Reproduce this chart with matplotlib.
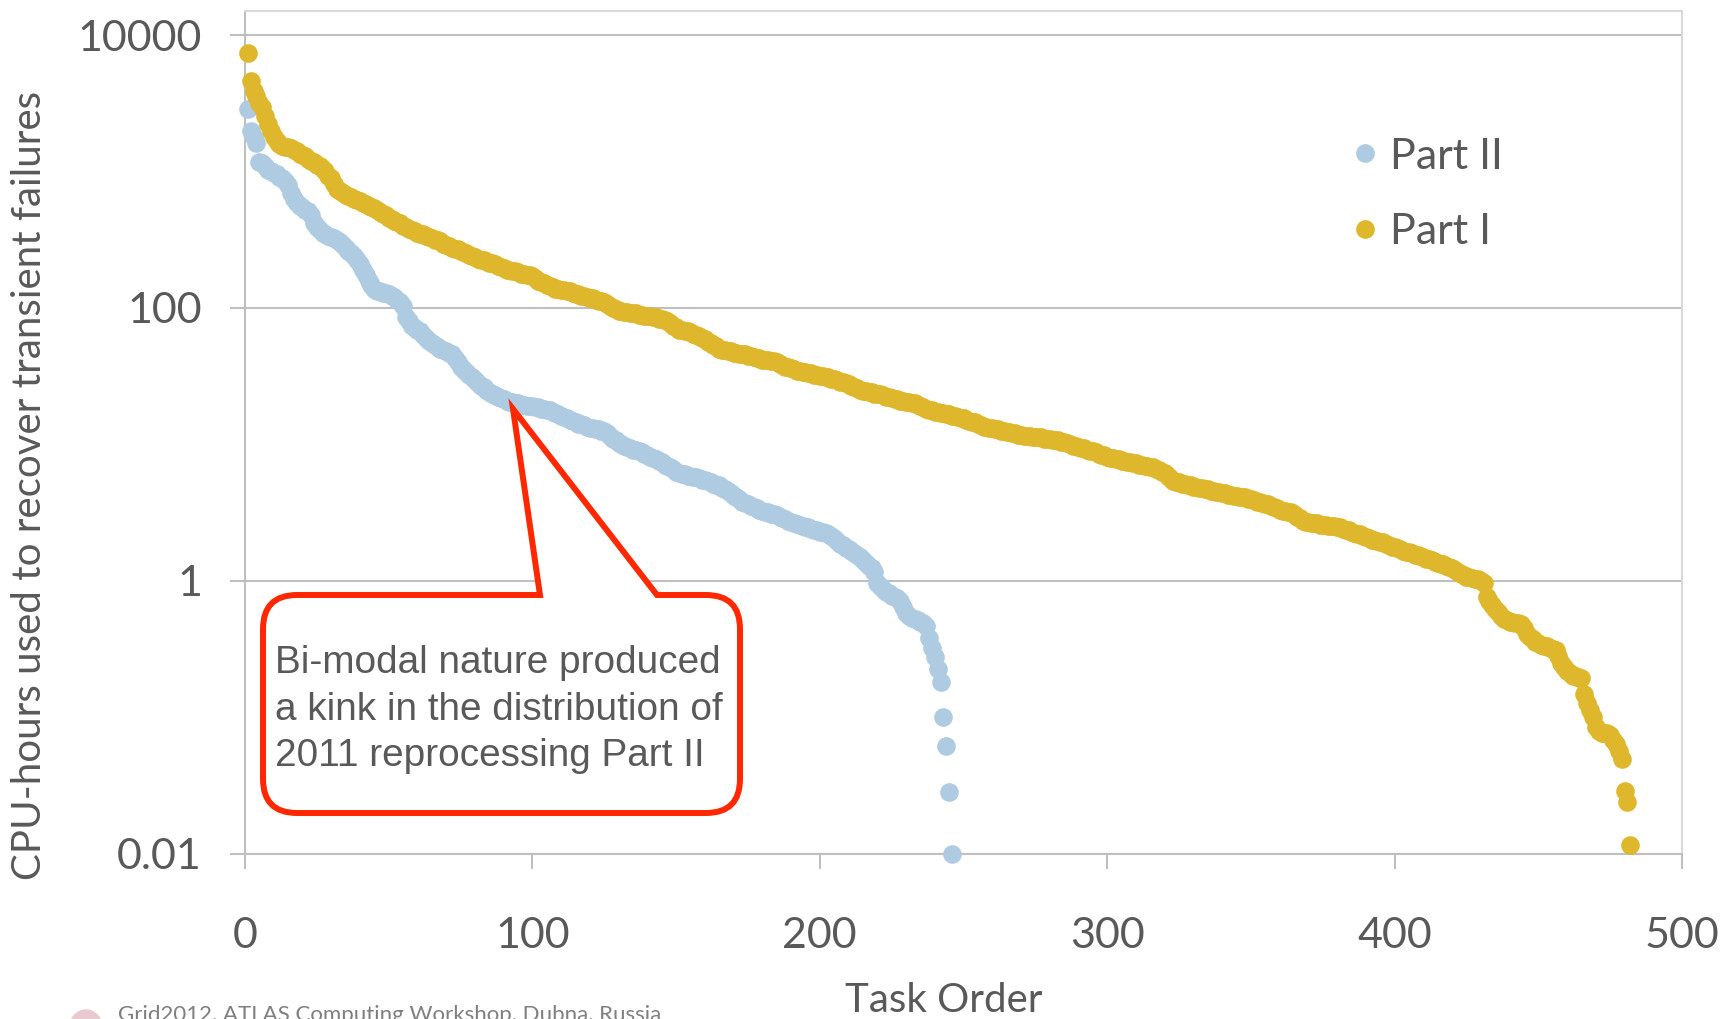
import matplotlib
matplotlib.use("Agg")
import matplotlib.pyplot as plt
import numpy as np
from matplotlib.path import Path
from matplotlib.patches import PathPatch, Ellipse
from matplotlib.lines import Line2D

# CPU-hours per task, sorted descending as log10 values
part2_log10 = [
    3.46, 3.30, 3.25, 3.21, 3.07, 3.06, 3.04, 3.01, 3.00, 2.99,
    2.98, 2.96, 2.95, 2.93, 2.90, 2.84, 2.80, 2.77, 2.75, 2.74,
    2.72, 2.71, 2.68, 2.62, 2.59, 2.57, 2.55, 2.54, 2.53, 2.52,
    2.51, 2.50, 2.48, 2.46, 2.44, 2.42, 2.40, 2.38, 2.35, 2.32,
    2.28, 2.24, 2.20, 2.17, 2.14, 2.12, 2.12, 2.11, 2.11, 2.10,
    2.09, 2.08, 2.06, 2.04, 2.01, 1.93, 1.90, 1.87, 1.85, 1.84,
    1.83, 1.80, 1.78, 1.76, 1.74, 1.73, 1.71, 1.70, 1.69, 1.68,
    1.67, 1.66, 1.63, 1.60, 1.57, 1.55, 1.53, 1.51, 1.49, 1.47,
    1.45, 1.43, 1.42, 1.40, 1.38, 1.37, 1.36, 1.35, 1.34, 1.33,
    1.32, 1.31, 1.31, 1.30, 1.30, 1.29, 1.29, 1.28, 1.28, 1.28,
    1.27, 1.27, 1.26, 1.26, 1.25, 1.25, 1.24, 1.23, 1.22, 1.21,
    1.20, 1.19, 1.18, 1.17, 1.16, 1.15, 1.15, 1.14, 1.13, 1.12,
    1.12, 1.11, 1.11, 1.10, 1.10, 1.08, 1.06, 1.04, 1.03, 1.01,
    1.00, 0.99, 0.98, 0.97, 0.96, 0.96, 0.95, 0.94, 0.93, 0.92,
    0.91, 0.90, 0.89, 0.88, 0.87, 0.85, 0.84, 0.83, 0.82, 0.80,
    0.79, 0.78, 0.78, 0.77, 0.77, 0.76, 0.76, 0.75, 0.74, 0.74,
    0.73, 0.72, 0.71, 0.70, 0.70, 0.68, 0.67, 0.66, 0.64, 0.62,
    0.61, 0.60, 0.58, 0.57, 0.56, 0.55, 0.54, 0.53, 0.52, 0.51,
    0.50, 0.50, 0.49, 0.49, 0.48, 0.47, 0.46, 0.45, 0.44, 0.43,
    0.42, 0.415, 0.41, 0.40, 0.39, 0.39, 0.38, 0.37, 0.37, 0.36,
    0.355, 0.35, 0.34, 0.33, 0.31, 0.29, 0.27, 0.26, 0.24, 0.23,
    0.22, 0.20, 0.19, 0.17, 0.15, 0.13, 0.11, 0.09, 0.06, -0.02,
    -0.04, -0.06, -0.08, -0.09, -0.11, -0.12, -0.13, -0.15, -0.19, -0.24,
    -0.26, -0.27, -0.28, -0.29, -0.30, -0.31, -0.33, -0.42, -0.49, -0.56,
    -0.65, -0.74, -1.00, -1.21, -1.55, -2.00,
]

part1_log10 = [
    3.87, 3.66, 3.59, 3.55, 3.50, 3.47, 3.41, 3.35, 3.30, 3.25,
    3.22, 3.20, 3.19, 3.18, 3.18, 3.17, 3.16, 3.15, 3.13, 3.12,
    3.11, 3.09, 3.08, 3.07, 3.05, 3.04, 3.02, 3.00, 2.97, 2.95,
    2.91, 2.87, 2.86, 2.84, 2.83, 2.82, 2.81, 2.80, 2.79, 2.78,
    2.77, 2.76, 2.75, 2.74, 2.73, 2.72, 2.70, 2.69, 2.68, 2.66,
    2.65, 2.64, 2.63, 2.62, 2.60, 2.59, 2.58, 2.57, 2.56, 2.55,
    2.54, 2.54, 2.53, 2.52, 2.51, 2.50, 2.50, 2.49, 2.47, 2.46,
    2.45, 2.44, 2.43, 2.43, 2.42, 2.41, 2.40, 2.39, 2.38, 2.37,
    2.36, 2.35, 2.35, 2.34, 2.33, 2.33, 2.32, 2.31, 2.30, 2.29,
    2.28, 2.28, 2.27, 2.27, 2.26, 2.25, 2.25, 2.24, 2.24, 2.23,
    2.22, 2.20, 2.19, 2.18, 2.17, 2.16, 2.15, 2.14, 2.14, 2.13,
    2.13, 2.12, 2.12, 2.11, 2.10, 2.10, 2.09, 2.09, 2.08, 2.07,
    2.07, 2.06, 2.05, 2.05, 2.04, 2.03, 2.01, 2.00, 1.99, 1.98,
    1.98, 1.97, 1.97, 1.96, 1.96, 1.96, 1.95, 1.95, 1.94, 1.94,
    1.94, 1.93, 1.93, 1.92, 1.92, 1.91, 1.90, 1.89, 1.87, 1.86,
    1.84, 1.84, 1.83, 1.83, 1.82, 1.81, 1.80, 1.79, 1.78, 1.77,
    1.75, 1.74, 1.73, 1.72, 1.70, 1.69, 1.69, 1.68, 1.68, 1.67,
    1.67, 1.66, 1.66, 1.66, 1.65, 1.65, 1.64, 1.63, 1.63, 1.62,
    1.62, 1.62, 1.61, 1.61, 1.60, 1.59, 1.58, 1.57, 1.57, 1.56,
    1.55, 1.54, 1.54, 1.53, 1.53, 1.52, 1.52, 1.51, 1.51, 1.50,
    1.50, 1.49, 1.49, 1.48, 1.48, 1.47, 1.46, 1.46, 1.45, 1.44,
    1.43, 1.42, 1.41, 1.40, 1.39, 1.39, 1.38, 1.38, 1.37, 1.37,
    1.37, 1.36, 1.35, 1.35, 1.34, 1.33, 1.33, 1.32, 1.32, 1.31,
    1.31, 1.30, 1.30, 1.29, 1.28, 1.27, 1.26, 1.25, 1.25, 1.24,
    1.24, 1.23, 1.23, 1.22, 1.22, 1.21, 1.21, 1.20, 1.19, 1.19,
    1.18, 1.17, 1.16, 1.16, 1.15, 1.14, 1.13, 1.13, 1.12, 1.12,
    1.11, 1.11, 1.10, 1.10, 1.09, 1.09, 1.08, 1.08, 1.07, 1.07,
    1.06, 1.06, 1.06, 1.05, 1.05, 1.05, 1.05, 1.04, 1.04, 1.04,
    1.03, 1.03, 1.03, 1.02, 1.02, 1.01, 1.00, 0.99, 0.99, 0.98,
    0.97, 0.97, 0.96, 0.95, 0.95, 0.94, 0.93, 0.92, 0.92, 0.91,
    0.90, 0.90, 0.89, 0.89, 0.88, 0.88, 0.87, 0.87, 0.86, 0.86,
    0.85, 0.85, 0.84, 0.84, 0.83, 0.83, 0.82, 0.81, 0.80, 0.79,
    0.77, 0.75, 0.73, 0.72, 0.72, 0.71, 0.71, 0.70, 0.70, 0.69,
    0.69, 0.68, 0.68, 0.67, 0.67, 0.66, 0.66, 0.65, 0.65, 0.64,
    0.64, 0.63, 0.63, 0.62, 0.62, 0.61, 0.61, 0.61, 0.60, 0.60,
    0.59, 0.58, 0.58, 0.57, 0.56, 0.56, 0.55, 0.54, 0.53, 0.52,
    0.51, 0.51, 0.50, 0.50, 0.49, 0.47, 0.46, 0.44, 0.43, 0.43,
    0.42, 0.42, 0.42, 0.41, 0.41, 0.41, 0.40, 0.40, 0.40, 0.39,
    0.39, 0.38, 0.37, 0.37, 0.36, 0.35, 0.34, 0.34, 0.33, 0.32,
    0.31, 0.30, 0.30, 0.29, 0.28, 0.28, 0.27, 0.26, 0.25, 0.25,
    0.24, 0.23, 0.22, 0.21, 0.21, 0.20, 0.19, 0.19, 0.18, 0.17,
    0.16, 0.16, 0.15, 0.14, 0.13, 0.12, 0.12, 0.11, 0.10, 0.09,
    0.08, 0.06, 0.05, 0.04, 0.03, 0.03, 0.02, 0.01, 0.01, 0.00,
    -0.02, -0.12, -0.15, -0.18, -0.21, -0.23, -0.26, -0.28, -0.29, -0.30,
    -0.30, -0.31, -0.31, -0.32, -0.35, -0.39, -0.41, -0.43, -0.45, -0.46,
    -0.47, -0.48, -0.48, -0.49, -0.50, -0.51, -0.55, -0.60, -0.63, -0.66,
    -0.68, -0.70, -0.70, -0.71, -0.71, -0.83, -0.90, -0.95, -1.00, -1.07,
    -1.10, -1.12, -1.12, -1.12, -1.13, -1.17, -1.20, -1.25, -1.31, -1.54,
    -1.62, -1.94,
]

series_names = ["Part II", "Part I"]
series_colors = ["#AFCBE1", "#DFB72C"]
x_ticks = [0, 100, 200, 300, 400, 500]
y_ticks = [0.01, 1, 100, 10000]
y_tick_labels = ["0.01", "1", "100", "10000"]
callout_lines = [
    "Bi-modal nature produced",
    "a kink in the distribution of",
    "2011 reprocessing Part II",
]
footer = "Grid2012, ATLAS Computing Workshop, Dubna, Russia"

FIG_W, FIG_H = 1725, 1019
GRID = "#BFBFBF"
TEXT = "#595959"
RED = "#FF2800"


def px(x, y):
    # reference pixel (origin top-left) -> figure fraction
    return x / FIG_W, 1 - y / FIG_H


def callout_path(left, top, right, bottom, r, notch_l, notch_r, tip):
    pts = [px(notch_l, top), px(*tip), px(notch_r, top),
           px(right - r, top), px(right, top), px(right, top + r),
           px(right, bottom - r), px(right, bottom), px(right - r, bottom),
           px(left + r, bottom), px(left, bottom), px(left, bottom - r),
           px(left, top + r), px(left, top), px(left + r, top),
           px(notch_l, top)]
    codes = [Path.MOVETO, Path.LINETO, Path.LINETO,
             Path.LINETO, Path.CURVE3, Path.CURVE3,
             Path.LINETO, Path.CURVE3, Path.CURVE3,
             Path.LINETO, Path.CURVE3, Path.CURVE3,
             Path.LINETO, Path.CURVE3, Path.CURVE3,
             Path.CLOSEPOLY]
    return Path(pts, codes)


plt.rcParams["font.family"] = ["Lato", "DejaVu Sans"]

fig = plt.figure(figsize=(FIG_W / 100, FIG_H / 100), dpi=100)
l, b = px(245, 853.5)
r, t = px(1682, 11)
ax = fig.add_axes([l, b, r - l, t - b])

for name, color, vals in zip(series_names, series_colors, [part2_log10, part1_log10]):
    tasks = np.arange(1, len(vals) + 1)
    ax.scatter(tasks, 10 ** np.array(vals), s=180, color=color, linewidths=0,
               zorder=3, clip_on=False)

ax.set_yscale("log")
ax.set_xlim(0, 500)
ax.set_ylim(0.01, 1.5e4)
ax.set_yticks(y_ticks)
ax.set_yticklabels(y_tick_labels)
ax.yaxis.set_minor_locator(matplotlib.ticker.NullLocator())
ax.set_xticks(x_ticks)
ax.grid(axis="y", which="major", color=GRID, lw=1.5)
ax.set_axisbelow(True)
ax.tick_params(axis="y", direction="out", length=11, width=1.5, color=GRID,
               labelsize=31, labelcolor=TEXT, pad=20)
ax.tick_params(axis="x", direction="out", length=11, width=1.5, color=GRID,
               labelsize=31, labelcolor=TEXT, pad=35)
for side in ["left", "bottom"]:
    ax.spines[side].set_color(GRID)
    ax.spines[side].set_linewidth(1.5)
for side in ["top", "right"]:
    ax.spines[side].set_color("#D9D9D9")
    ax.spines[side].set_linewidth(1.5)

fig.text(*px(30, 485), "CPU-hours used to recover transient failures",
         rotation=90, ha="center", va="center", fontsize=29, color=TEXT)
fig.text(*px(944, 1000), "Task Order", ha="center", va="center",
         fontsize=29, color=TEXT)

handles = [Line2D([], [], ls="none", marker="o", markersize=13.5,
                  markerfacecolor=c, markeredgewidth=0) for c in series_colors]
ax.legend(handles, series_names, loc="upper left",
          bbox_to_anchor=px(1331, 116), bbox_transform=fig.transFigure,
          frameon=False, fontsize=31, labelcolor=TEXT, borderpad=0,
          handlelength=0.6, handletextpad=0.27, labelspacing=0.87)

# callout box
fig.patches.append(PathPatch(
    callout_path(263, 595, 740, 813, 34, 540, 657, (513, 409)),
    transform=fig.transFigure, facecolor="white", edgecolor=RED, lw=4.3,
    joinstyle="miter", zorder=5))
for i, line in enumerate(callout_lines):
    fig.text(*px(275, 673 + 46.7 * i), line, ha="left", va="baseline",
             fontsize=27.9, color=TEXT, family="Liberation Sans", zorder=6)

# footer (cut off by the slide edge, as in the original slide)
fig.patches.append(Ellipse(px(86, 1030), 34 / FIG_W, 40 / FIG_H,
                           transform=fig.transFigure, color="#E9CBCF"))
fig.text(*px(118, 1005), footer, ha="left", va="top", fontsize=16,
         color="#7F7F7F")

fig.savefig("out.png", dpi=100)
